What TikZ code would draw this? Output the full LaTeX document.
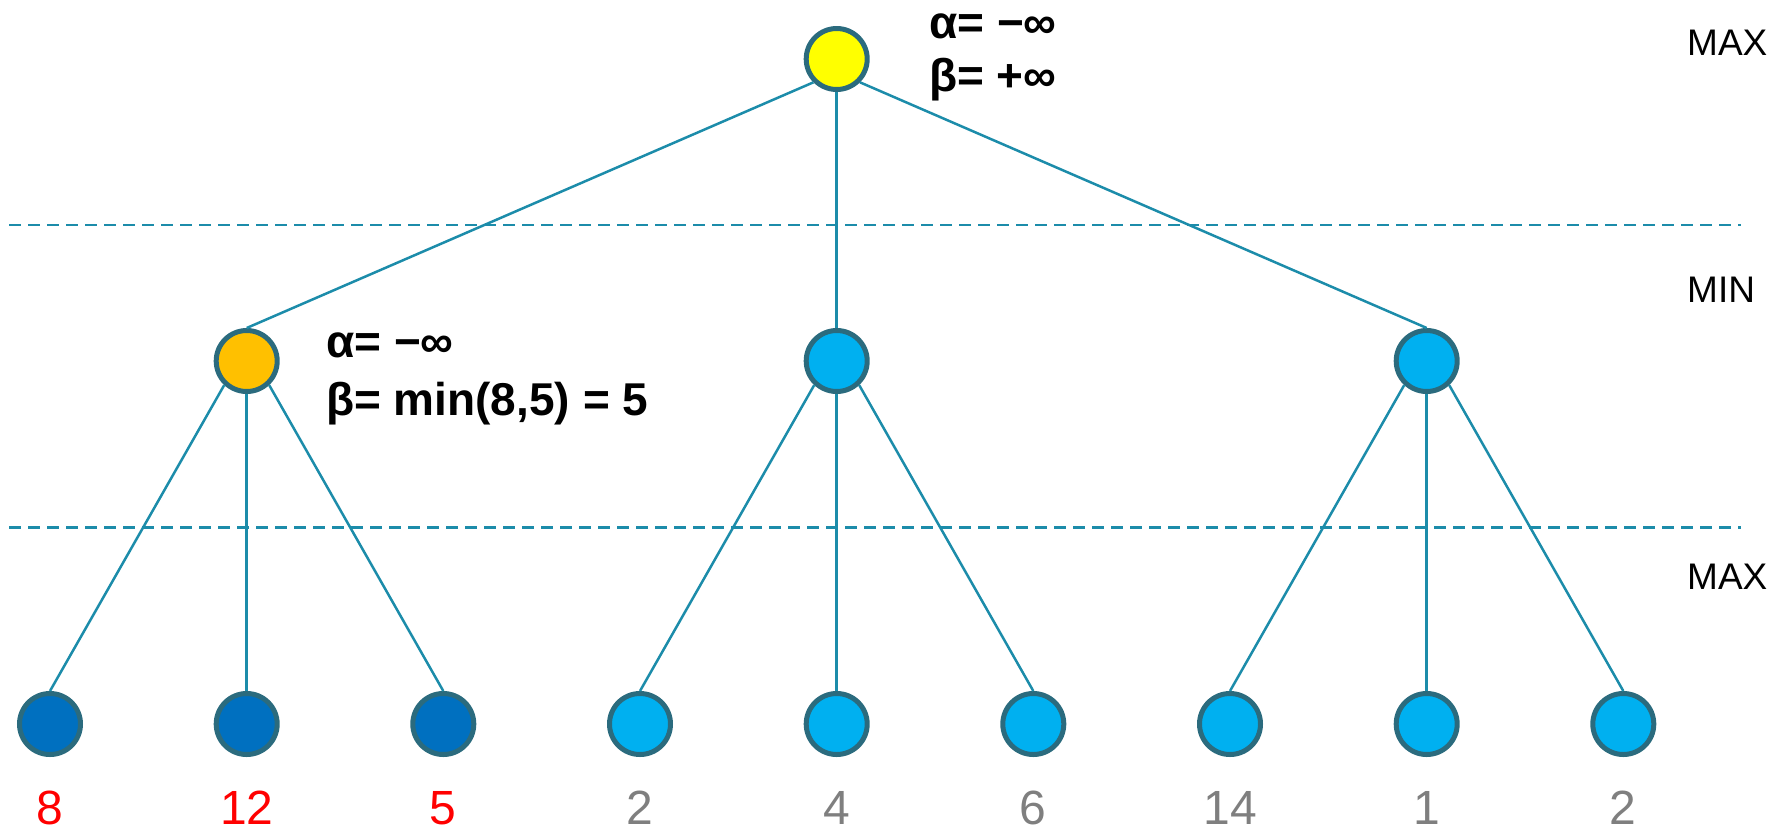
\documentclass[tikz,border=0pt]{standalone}
\usepackage{fontspec}
\setmainfont{Liberation Sans}
\definecolor{edgec}{HTML}{1C8CAA}
\definecolor{ringc}{HTML}{2B6B7E}
\definecolor{lightb}{HTML}{00B0F0}
\definecolor{darkb}{HTML}{0070C0}
\definecolor{orangec}{HTML}{FFC000}
\definecolor{yellowc}{HTML}{FFFF00}
\definecolor{greyc}{HTML}{7F7F7F}
\definecolor{redc}{HTML}{FF0000}
\begin{document}
\begin{tikzpicture}[x=1pt,y=-1pt,
  state/.style={circle, draw=ringc, line width=5pt, minimum size=61pt, inner sep=0pt},
  edge/.style={draw=edgec, line width=2.5pt},
  sep/.style={draw=edgec, line width=2.5pt, dash pattern=on 12pt off 7pt},
  val/.style={font=\fontsize{48}{48}\selectfont, inner sep=0pt},
  lbl/.style={font=\bfseries\fontsize{46}{46}\selectfont, anchor=base west, inner sep=0pt},
  lvl/.style={font=\fontsize{37}{37}\selectfont, anchor=base west, inner sep=0pt}]
\useasboundingbox (0,0) rectangle (1775,831);

% level separators
\coordinate (s1a) at (9,225);   \coordinate (s1b) at (1741,225);
\coordinate (s2a) at (9,527.5); \coordinate (s2b) at (1741,527.5);
\draw[sep] (s1a) -- (s1b);
\draw[sep] (s2a) -- (s2b);

% nodes
\node[state, fill=yellowc] (r) at (836.7,59) {};
\node[state, fill=orangec] (m1) at (246.7,361) {};
\node[state, fill=lightb] (m2) at (836.7,361) {};
\node[state, fill=lightb] (m3) at (1426.7,361) {};

\node[state, fill=darkb] (l1) at (50,724) {};
\node[state, fill=darkb] (l2) at (246.7,724) {};
\node[state, fill=darkb] (l3) at (443.3,724) {};
\node[state, fill=lightb] (l4) at (640,724) {};
\node[state, fill=lightb] (l5) at (836.7,724) {};
\node[state, fill=lightb] (l6) at (1033.3,724) {};
\node[state, fill=lightb] (l7) at (1230,724) {};
\node[state, fill=lightb] (l8) at (1426.7,724) {};
\node[state, fill=lightb] (l9) at (1623.3,724) {};

% edges
\draw[edge] (r.225) -- (m1.north);
\draw[edge] (r.south) -- (m2.north);
\draw[edge] (r.315) -- (m3.north);
\draw[edge] (m1.227) -- (l1.north);
\draw[edge] (m1.south) -- (l2.north);
\draw[edge] (m1.313) -- (l3.north);
\draw[edge] (m2.227) -- (l4.north);
\draw[edge] (m2.south) -- (l5.north);
\draw[edge] (m2.313) -- (l6.north);
\draw[edge] (m3.227) -- (l7.north);
\draw[edge] (m3.south) -- (l8.north);
\draw[edge] (m3.313) -- (l9.north);

% leaf values
\node[val, text=redc]  (v1) at (50,808) {8};
\node[val, text=redc]  (v2) at (246.7,808) {12};
\node[val, text=redc]  (v3) at (443.3,808) {5};
\node[val, text=greyc] (v4) at (640,808) {2};
\node[val, text=greyc] (v5) at (836.7,808) {4};
\node[val, text=greyc] (v6) at (1033.3,808) {6};
\node[val, text=greyc] (v7) at (1230,808) {14};
\node[val, text=greyc] (v8) at (1426.7,808) {1};
\node[val, text=greyc] (v9) at (1623.3,808) {2};

% alpha-beta labels
\node[lbl] (ra) at (929,38) {α= −∞};
\node[lbl] (rb) at (929,91) {β= +∞};
\node[lbl] (ma) at (326,357) {α= −∞};
\node[lbl] (mb) at (326,415) {β= min(8,5) = 5};

% level labels
\node[lvl] (t1) at (1687,55.5) {MAX};
\node[lvl] (t2) at (1687,302) {MIN};
\node[lvl] (t3) at (1687,589) {MAX};
\end{tikzpicture}
\end{document}
